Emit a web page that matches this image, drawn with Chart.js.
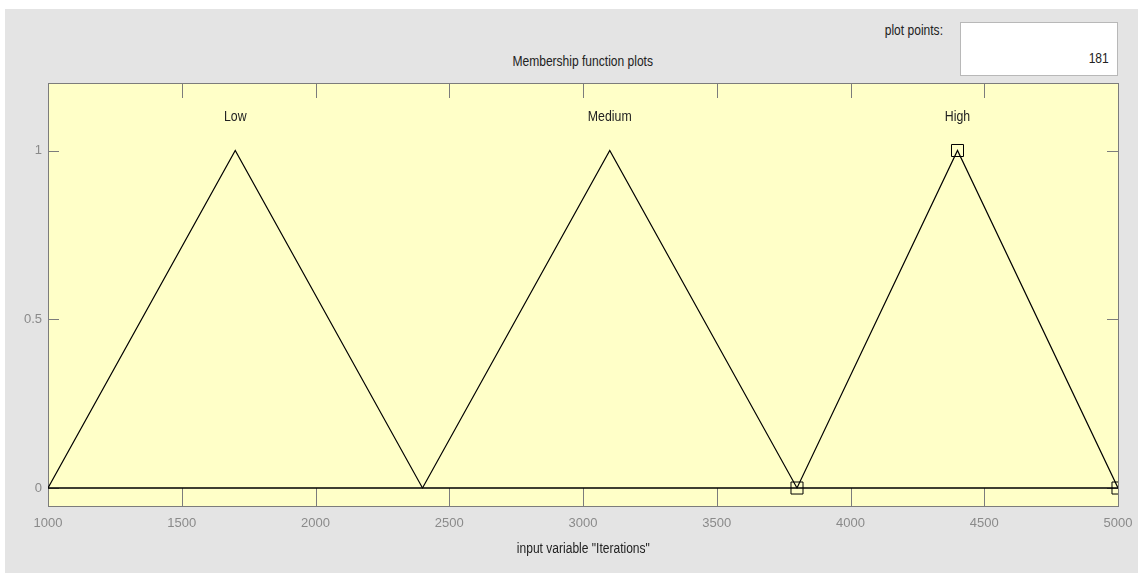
<!DOCTYPE html>
<html>
<head>
<meta charset="utf-8">
<script src="https://cdn.jsdelivr.net/npm/chart.js@4.4.1/dist/chart.umd.min.js"></script>
<style>
  html, body { margin: 0; padding: 0; background: #ffffff; }
  #wrap { position: relative; width: 1138px; height: 573px; overflow: hidden; }
  #panel { position: absolute; left: 5px; top: 9px; right: 0; bottom: 0; background: #e4e4e4; }
  #chart { position: absolute; left: 0; top: 0; }
  .txt { position: absolute; font-family: "Liberation Sans", Arial, sans-serif; font-size: 14px; color: #222; white-space: nowrap; }
  .narrow { display: inline-block; transform: scaleX(0.86); }
  #title { left: 48px; width: 1070px; top: 53px; text-align: center; }
  #ppLabel { left: 874px; top: 22px; width: 80px; text-align: center; }
  #ppBox { position: absolute; left: 960px; top: 22px; width: 158px; height: 54px; background: #fff; border: 1px solid #b8b8b8; box-sizing: border-box; }
  #ppVal { right: 28px; top: 50px; }
  #xTitle { left: 48px; width: 1070px; top: 540px; text-align: center; }
</style>
</head>
<body>
<div id="wrap">
  <div id="panel"></div>
  <div class="txt" id="ppLabel"><span class="narrow">plot points:</span></div>
  <div id="ppBox"></div>
  <div class="txt" id="ppVal"><span class="narrow">181</span></div>
  <div class="txt" id="title"><span class="narrow">Membership function plots</span></div>
  <canvas id="chart" width="1138" height="573"></canvas>
  <div class="txt" id="xTitle"><span class="narrow">input variable "Iterations"</span></div>
</div>
<script>
/* Membership function plot — input variable "Iterations" */

const xTicks = [1000, 1500, 2000, 2500, 3000, 3500, 4000, 4500, 5000];
const yTicks = [0, 0.5, 1];

const mfNames = ['Low', 'Medium', 'High'];
const mfPeaks = [1700, 3100, 4400];

const lowX = [1000, 1700, 2400, 5000];
const lowY = [0, 1, 0, 0];
const medX = [1000, 2400, 3100, 3800, 5000];
const medY = [0, 0, 1, 0, 0];
const highX = [1000, 3800, 4400, 5000];
const highY = [0, 0, 1, 0];

const FONT = '"Liberation Sans", Arial, sans-serif';

const toPts = (xs, ys) => xs.map((x, i) => ({ x, y: ys[i] }));

/* ── frame, inside ticks and MF names ───────────────────────────── */
const framePlugin = {
  id: 'frame',
  beforeDraw(chart) {
    const { ctx, chartArea: a } = chart;
    ctx.save();
    ctx.fillStyle = '#ffffc8';
    ctx.fillRect(a.left, a.top, a.right - a.left, a.bottom - a.top);
    ctx.restore();
  },
  beforeDatasetsDraw(chart) {
    const { ctx, chartArea: a, scales } = chart;
    ctx.save();
    ctx.strokeStyle = '#7c7c7c';
    ctx.lineWidth = 1;
    ctx.beginPath();
    scales.x.ticks.forEach(t => {
      const px = Math.round(scales.x.getPixelForValue(t.value)) + 0.5;
      ctx.moveTo(px, a.top); ctx.lineTo(px, a.top + 15);
      ctx.moveTo(px, a.bottom); ctx.lineTo(px, a.bottom - 18);
    });
    scales.y.ticks.forEach(t => {
      const py = Math.round(scales.y.getPixelForValue(t.value)) + 0.5;
      ctx.moveTo(a.left, py); ctx.lineTo(a.left + 11, py);
      ctx.moveTo(a.right, py); ctx.lineTo(a.right - 11, py);
    });
    ctx.stroke();
    ctx.strokeRect(Math.round(a.left) + 0.5, Math.round(a.top) + 0.5,
                   Math.round(a.right - a.left), Math.round(a.bottom - a.top));

    ctx.fillStyle = '#222222';
    ctx.font = '14px ' + FONT;
    ctx.textAlign = 'center';
    ctx.textBaseline = 'middle';
    mfNames.forEach((n, i) => {
      const px = scales.x.getPixelForValue(mfPeaks[i]);
      const py = scales.y.getPixelForValue(1.1);
      ctx.save();
      ctx.translate(px, py);
      ctx.scale(0.88, 1);
      ctx.fillText(n, 0, 0);
      ctx.restore();
    });
    ctx.restore();
  },
};

const lineDs = (label, xs, ys, extra) => ({
  label,
  data: toPts(xs, ys),
  showLine: true,
  borderColor: '#000000',
  borderWidth: 1.2,
  pointRadius: 0,
  tension: 0,
  ...extra,
});

new Chart(document.getElementById('chart').getContext('2d'), {
  type: 'scatter',
  data: {
    datasets: [
      lineDs('Low', lowX, lowY),
      lineDs('Medium', medX, medY),
      lineDs('High', highX, highY, {
        pointRadius: [0, 8.5, 8.5, 8.5],
        pointStyle: 'rect',
        pointBorderColor: '#000000',
        pointBackgroundColor: 'rgba(0,0,0,0)',
        pointBorderWidth: 1,
      }),
    ],
  },
  options: {
    responsive: false,
    animation: false,
    layout: { padding: { left: 0, top: 83, right: 20, bottom: 0 } },
    plugins: { legend: { display: false }, tooltip: { enabled: false } },
    scales: {
      x: {
        type: 'linear',
        min: 1000,
        max: 5000,
        grid: { display: false, drawTicks: true, tickLength: 8 },
        border: { display: false },
        afterBuildTicks: s => { s.ticks = xTicks.map(v => ({ value: v })); },
        afterFit: s => { s.height = 67; },
        ticks: { color: '#8a8a8a', padding: 2, font: { family: FONT, size: 13 }, callback: v => String(v) },
      },
      y: {
        type: 'linear',
        min: -0.0533,
        max: 1.2,
        grid: { display: false, drawTicks: false },
        border: { display: false },
        afterBuildTicks: s => { s.ticks = yTicks.map(v => ({ value: v })); },
        afterFit: s => { s.width = 48; },
        ticks: { color: '#8a8a8a', padding: 6, font: { family: FONT, size: 13 }, callback: v => String(v) },
      },
    },
  },
  plugins: [framePlugin],
});
</script>
</body>
</html>
